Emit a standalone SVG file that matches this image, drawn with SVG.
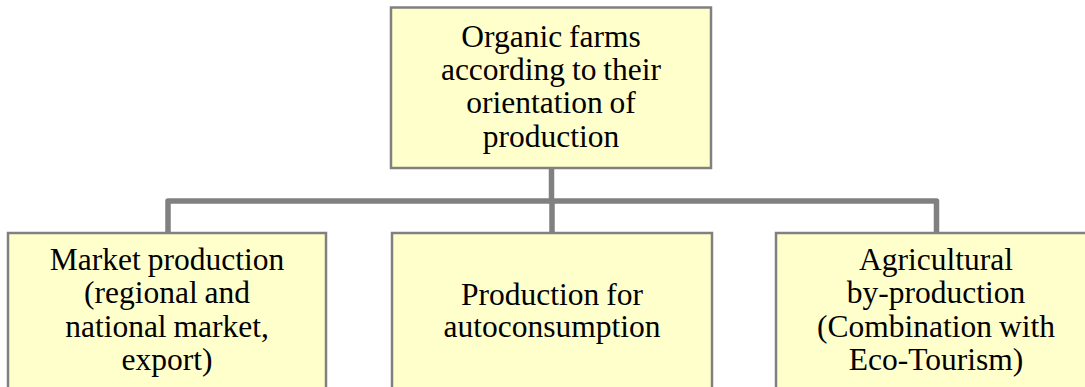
<svg xmlns="http://www.w3.org/2000/svg" width="1085" height="387" viewBox="0 0 1085 387">
<style>
.box{fill:#FFFFCC;stroke:#808080;stroke-width:2.5}
.conn{fill:none;stroke:#808080;stroke-width:5.5;stroke-linejoin:round}
text{font-family:"Liberation Serif","Times New Roman",serif;font-size:31.5px;fill:#000;text-anchor:middle;word-spacing:-1px}
</style>
<rect width="1085" height="387" fill="#FFFFFF"/>
<g id="connectors">
<path class="conn" d="M551.5,168 V201"/>
<path class="conn" d="M168,233 V201 H936.5 V233"/>
<path class="conn" d="M552,201 V233"/>
</g>
<g id="root">
<rect class="box" x="391" y="7.5" width="320" height="160.5"/>
<text x="551" y="47">Organic farms</text>
<text x="551" y="80">according to their</text>
<text x="551" y="113">orientation of</text>
<text x="551" y="147">production</text>
</g>
<g id="market">
<rect class="box" x="8" y="233" width="318" height="170"/>
<text x="167" y="270">Market production</text>
<text x="167" y="303">(regional and</text>
<text x="167" y="337">national market,</text>
<text x="167" y="370">export)</text>
</g>
<g id="auto">
<rect class="box" x="392" y="233" width="320" height="170"/>
<text x="552" y="305">Production for</text>
<text x="552" y="337">autoconsumption</text>
</g>
<g id="agri">
<rect class="box" x="776" y="233" width="320" height="170"/>
<text x="936" y="270">Agricultural</text>
<text x="936" y="303">by-production</text>
<text x="936" y="337">(Combination with</text>
<text x="936" y="370">Eco-Tourism)</text>
</g>
</svg>
